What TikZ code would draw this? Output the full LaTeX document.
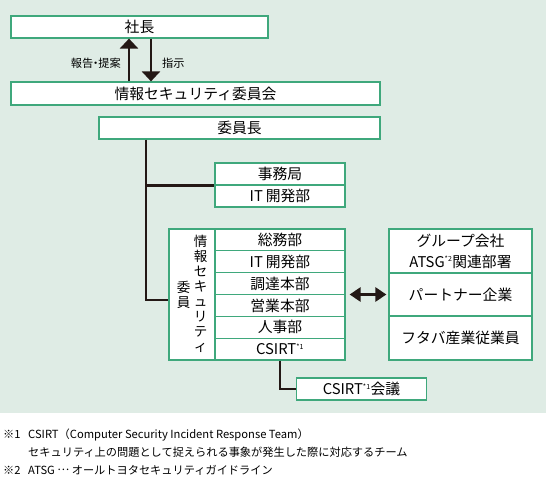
\documentclass[tikz,border=0pt]{standalone}
\usepackage{fontspec}
\setmainfont{Noto Sans CJK JP}
\usetikzlibrary{positioning,arrows.meta}
\definecolor{panelcolor}{HTML}{DFECE5}
\definecolor{framecolor}{HTML}{3FA87C}
\definecolor{linecolor}{HTML}{231815}
\newcommand{\noteref}[1]{\textsuperscript{\fontsize{7}{7}\selectfont *#1}}

\tikzset{
    unitbox/.style={draw=framecolor, fill=white, line width=1.2pt, inner sep=0pt,
        minimum height=22pt, font=\fontsize{14.8}{21}\selectfont, align=center},
    treeline/.style={linecolor, line width=2.6pt},
    notefont/.style={font=\fontsize{11.2}{14}\selectfont, inner sep=0pt},
}

\begin{document}
\begin{tikzpicture}[x=1pt, y=-1pt]
    \useasboundingbox (0,0) rectangle (546,478);
    \fill[panelcolor] (0,0) rectangle (546,413);

    \node[unitbox, minimum width=257pt] at (139.5,27) (President) {社長};
    \node[unitbox, minimum width=369pt, minimum height=23pt] at (195.5,93.5) (Committee) {情報セキュリティ委員会};
    \node[unitbox, minimum width=281pt] at (239.5,128) (Chair) {委員長};

    % reporting arrows
    \coordinate (ReportX) at (129,0);
    \coordinate (OrderX) at (151,0);
    \draw[treeline, -{Triangle[length=10pt,width=18pt]}] (ReportX |- Committee.north) -- (ReportX |- President.south);
    \draw[treeline, -{Triangle[length=10pt,width=18pt]}] (OrderX |- President.south) -- (OrderX |- Committee.north);
    \node[notefont, anchor=east] at (121,63) (ReportLabel) {報告\hspace{-3pt}・\hspace{-3pt}提案};
    \node[notefont, anchor=west] at (162,63) (OrderLabel) {指示};

    % secretariat
    \node[unitbox, minimum width=130pt] at (280,174) (Secretariat) {事務局};
    \node[unitbox, minimum width=130pt] at (280,196) (SecretariatIT) {IT\hspace{3pt}開発部};

    % committee members
    \node[unitbox, minimum width=46pt, minimum height=131pt] at (192,294.5) (MemberTitle) {};
    \node[font=\fontsize{13.5}{15}\selectfont, align=center, inner sep=0pt] at (200.5,293.5) (TitleA) {情\\報\\セ\\キ\\ュ\\リ\\テ\\ィ};
    \node[font=\fontsize{13.5}{15}\selectfont, align=center, inner sep=0pt] at (183.5,294.5) (TitleB) {委\\員};

    \node[unitbox, minimum width=130pt, minimum height=21.83pt] at (280,239.9) (General) {総務部};
    \node[unitbox, minimum width=130pt, minimum height=21.83pt] at (280,261.7) (MemberIT) {IT\hspace{3pt}開発部};
    \node[unitbox, minimum width=130pt, minimum height=21.83pt] at (280,283.6) (Procurement) {調達本部};
    \node[unitbox, minimum width=130pt, minimum height=21.83pt] at (280,305.4) (Sales) {営業本部};
    \node[unitbox, minimum width=130pt, minimum height=21.83pt] at (280,327.2) (Personnel) {人事部};
    \node[unitbox, minimum width=130pt, minimum height=21.83pt] at (280,349.1) (CSIRT) {CSIRT\noteref{1}};

    % partners
    \node[unitbox, minimum width=143pt, minimum height=44pt] at (460.5,251) (Group) {グループ会社\\ATSG\noteref{2}関連部署};
    \node[unitbox, minimum width=143pt, minimum height=43pt] at (460.5,294.5) (Partner) {パートナー企業};
    \node[unitbox, minimum width=143pt, minimum height=44pt] at (460.5,338) (Employee) {フタバ産業従業員};

    \node[unitbox, minimum width=130pt] at (361.5,389) (Meeting) {CSIRT\noteref{1}会議};

    % tree
    \coordinate (BranchLow) at (146,300);
    \draw[treeline] (Chair.south -| BranchLow) -- (BranchLow) -- (BranchLow -| MemberTitle.west);
    \draw[treeline] (Secretariat.south west -| BranchLow) -- (Secretariat.south west);
    \draw[treeline] (CSIRT.south) |- (Meeting.west);
    \draw[treeline, {Triangle[length=11pt,width=14pt]}-{Triangle[length=11pt,width=14pt]}, shorten <=4pt, shorten >=2pt]
        (Partner.west -| Sales.east) -- (Partner.west);

    % notes
    \node[notefont, anchor=west] at (3,435) (NoteA) {\makebox[25pt][l]{※1}CSIRT（Computer Security Incident Response Team）};
    \node[notefont, anchor=west] at (28,452) (NoteB) {セキュリティ上の問題として捉えられる事象が発生した際に対応するチーム};
    \node[notefont, anchor=west] at (3,470) (NoteC) {\makebox[25pt][l]{※2}ATSG \raisebox{0.3em}{…} オールトヨタセキュリティガイドライン};
\end{tikzpicture}
\end{document}
